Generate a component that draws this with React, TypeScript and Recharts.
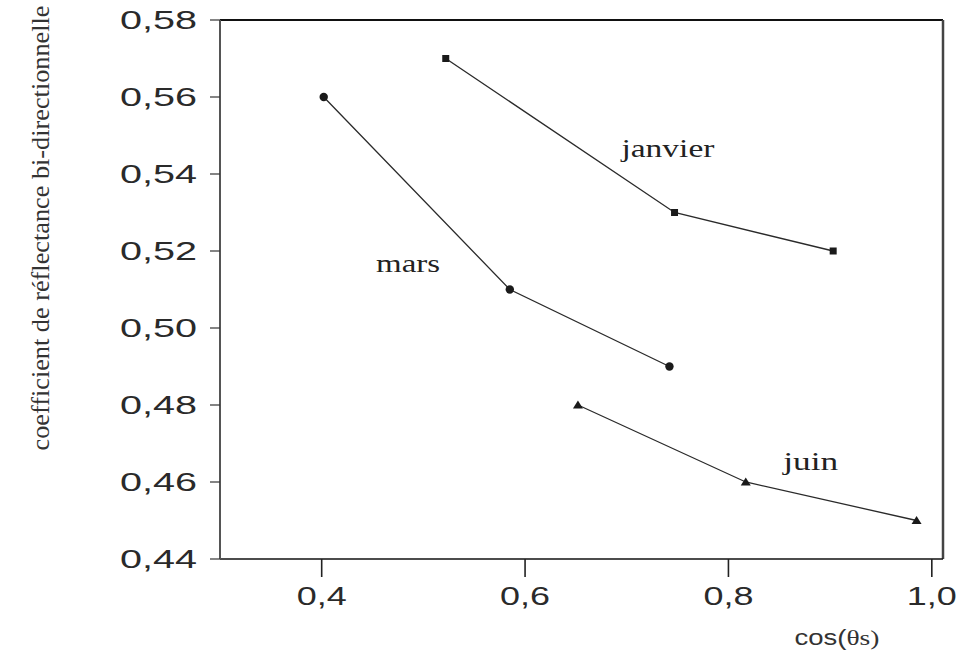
import {
  LineChart,
  Line,
  XAxis,
  YAxis,
  ReferenceLine,
  ReferenceDot,
} from "recharts";

// cos(θs) and reflectance values per month
const janvierX = [0.522, 0.747, 0.903];
const janvierY = [0.57, 0.53, 0.52];
const marsX = [0.402, 0.585, 0.742];
const marsY = [0.56, 0.51, 0.49];
const juinX = [0.652, 0.817, 0.985];
const juinY = [0.48, 0.46, 0.45];

const X_TICKS = [0.4, 0.6, 0.8, 1.0];
const Y_TICKS = [0.44, 0.46, 0.48, 0.5, 0.52, 0.54, 0.56, 0.58];

const INK = "#1a1a1a";
const SANS = "'Liberation Sans', Arial, sans-serif";
const SERIF = "'Liberation Serif', 'Times New Roman', serif";

const toPoints = (xs: number[], ys: number[]) =>
  xs.map((x, i) => ({ x, y: ys[i] }));

const janvier = toPoints(janvierX, janvierY);
const mars = toPoints(marsX, marsY);
const juin = toPoints(juinX, juinY);

const fmt = (v: number, digits: number) => v.toFixed(digits).replace(".", ",");

function SquareDot(p: any) {
  if (p.cx == null || p.cy == null) return <g key={p.index} />;
  return <rect key={p.index} x={p.cx - 3.5} y={p.cy - 3.5} width={7} height={7} fill={INK} />;
}

function CircleDot(p: any) {
  if (p.cx == null || p.cy == null) return <g key={p.index} />;
  return <circle key={p.index} cx={p.cx} cy={p.cy} r={4.2} fill={INK} />;
}

function TriangleDot(p: any) {
  if (p.cx == null || p.cy == null) return <g key={p.index} />;
  const { cx, cy } = p;
  return (
    <polygon
      key={p.index}
      points={`${cx},${cy - 4.5} ${cx + 5},${cy + 3.5} ${cx - 5},${cy + 3.5}`}
      fill={INK}
    />
  );
}

function YTick({ x, y, payload }: any) {
  return (
    <text
      x={x}
      y={y + 9}
      textAnchor="end"
      fontFamily={SANS}
      fontSize={26}
      fill="#2a2a2a"
      textLength={77}
      lengthAdjust="spacingAndGlyphs"
    >
      {fmt(payload.value, 2)}
    </text>
  );
}

function XTick({ x, y, payload }: any) {
  return (
    <text
      x={x}
      y={y + 20}
      textAnchor="middle"
      fontFamily={SANS}
      fontSize={26}
      fill="#2a2a2a"
      textLength={50}
      lengthAdjust="spacingAndGlyphs"
    >
      {fmt(payload.value, 1)}
    </text>
  );
}

// series name placed around a point in data space
function seriesLabel(text: string, width: number) {
  return ({ viewBox }: any) => {
    const cx = viewBox.x + viewBox.width / 2;
    const cy = viewBox.y + viewBox.height / 2;
    return (
      <text
        x={cx}
        y={cy + 7}
        textAnchor="middle"
        fontFamily={SERIF}
        fontSize={26}
        fill="#222"
        textLength={width}
        lengthAdjust="spacingAndGlyphs"
      >
        {text}
      </text>
    );
  };
}

function YAxisTitle({ viewBox }: any) {
  const cx = viewBox.x + 40;
  const cy = viewBox.y + 208;
  return (
    <text
      x={cx}
      y={cy}
      transform={`rotate(-90 ${cx} ${cy})`}
      textAnchor="middle"
      dominantBaseline="central"
      fontFamily={SERIF}
      fontSize={25}
      fill="#333"
      textLength={445}
      lengthAdjust="spacingAndGlyphs"
    >
      coefficient de réflectance bi-directionnelle
    </text>
  );
}

function XAxisTitle({ viewBox }: any) {
  const x = viewBox.x + 617;
  const y = viewBox.y + 86;
  return (
    <g transform={`translate(${x} ${y}) scale(1.25 1)`}>
      <text x={0} y={0} textAnchor="middle" fill="#333" fontSize={22}>
        <tspan fontFamily={SANS}>cos(</tspan>
        <tspan fontFamily={SERIF}>θs)</tspan>
      </text>
    </g>
  );
}

export default function App() {
  return (
    <div style={{ position: "absolute", left: 0, top: 0, background: "#fff" }}>
      <LineChart
        width={960}
        height={652}
        margin={{ top: 20, right: 17, bottom: 0, left: 0 }}
      >
        <XAxis
          type="number"
          dataKey="x"
          domain={[0.3, 1.011]}
          ticks={X_TICKS}
          allowDataOverflow
          height={93}
          tickSize={18}
          tickMargin={8}
          tick={<XTick />}
          axisLine={{ stroke: "#111", strokeWidth: 1.6 }}
          tickLine={{ stroke: "#222", strokeWidth: 1.6 }}
          label={<XAxisTitle />}
        />
        <YAxis
          type="number"
          dataKey="y"
          domain={[0.44, 0.58]}
          ticks={Y_TICKS}
          allowDataOverflow
          width={220}
          tickSize={10}
          tickMargin={13}
          tick={<YTick />}
          axisLine={{ stroke: "#555", strokeWidth: 2 }}
          tickLine={{ stroke: "#333", strokeWidth: 1.2 }}
          label={<YAxisTitle />}
        />
        <ReferenceLine y={0.58} stroke="#111" strokeWidth={2} />
        <ReferenceLine x={1.011} stroke="#444" strokeWidth={2.5} />

        <Line
          data={janvier}
          dataKey="y"
          stroke="#2a2a2a"
          strokeWidth={1.3}
          dot={SquareDot}
          isAnimationActive={false}
        />
        <Line
          data={mars}
          dataKey="y"
          stroke="#2a2a2a"
          strokeWidth={1.3}
          dot={CircleDot}
          isAnimationActive={false}
        />
        <Line
          data={juin}
          dataKey="y"
          stroke="#2a2a2a"
          strokeWidth={1.3}
          dot={TriangleDot}
          isAnimationActive={false}
        />

        <ReferenceDot x={0.7405} y={0.5463} r={1} fill="none" stroke="none" label={seriesLabel("janvier", 93)} />
        <ReferenceDot x={0.485} y={0.5164} r={1} fill="none" stroke="none" label={seriesLabel("mars", 64)} />
        <ReferenceDot x={0.881} y={0.465} r={1} fill="none" stroke="none" label={seriesLabel("juin", 55)} />
      </LineChart>
    </div>
  );
}
